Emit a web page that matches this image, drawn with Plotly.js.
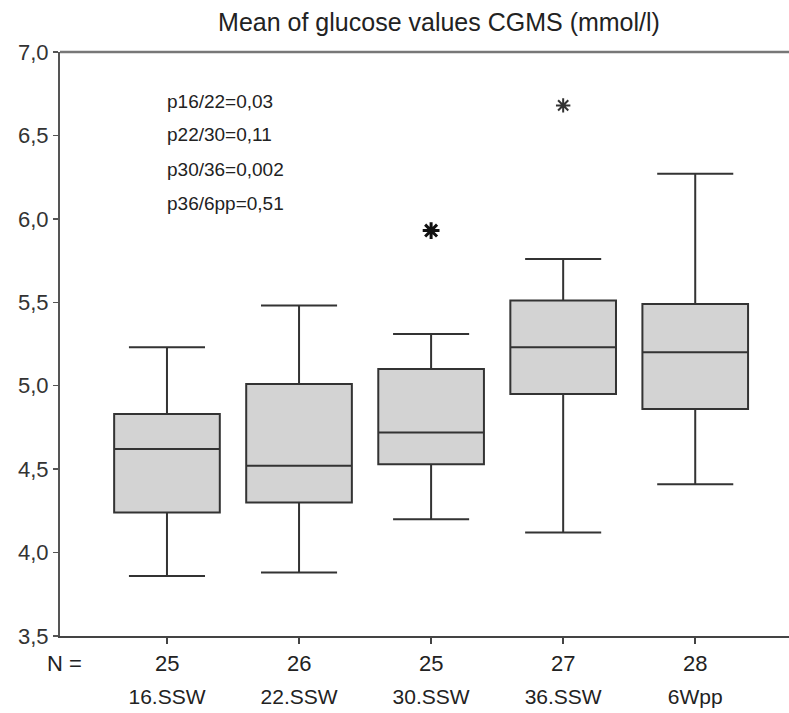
<!DOCTYPE html>
<html>
<head>
<meta charset="utf-8">
<script src="https://cdn.plot.ly/plotly-3.0.1.min.js"></script>
<style>html,body{margin:0;padding:0;background:#fff;}#chart{width:789px;height:713px;}</style>
</head>
<body>
<div id="chart"></div>
<script>
// ---- data ----
var categories = ["16.SSW", "22.SSW", "30.SSW", "36.SSW", "6Wpp"];
var nValues = [25, 26, 25, 27, 28];
var lowerWhisker = [3.86, 3.88, 4.20, 4.12, 4.41];
var q1Values = [4.24, 4.30, 4.53, 4.95, 4.86];
var medianValues = [4.62, 4.52, 4.72, 5.23, 5.20];
var q3Values = [4.83, 5.01, 5.10, 5.51, 5.49];
var upperWhisker = [5.23, 5.48, 5.31, 5.76, 6.27];
var outlierCats = ["30.SSW", "36.SSW"];
var outlierValues = [5.93, 6.68];
var pTexts = ["p16/22=0,03", "p22/30=0,11", "p30/36=0,002", "p36/6pp=0,51"];
var yTickVals = [3.5, 4.0, 4.5, 5.0, 5.5, 6.0, 6.5, 7.0];
var titleText = "Mean of glucose values CGMS (mmol/l)";

var FONT = "Liberation Sans, Arial, sans-serif";
var traces = [];
categories.forEach(function (c, i) {
  traces.push({
    type: "box",
    x: [c],
    q1: [q1Values[i]],
    median: [medianValues[i]],
    q3: [q3Values[i]],
    lowerfence: [lowerWhisker[i]],
    upperfence: [upperWhisker[i]],
    width: 0.8,
    whiskerwidth: 0.72,
    fillcolor: "#d3d3d3",
    line: {color: "#333333", width: 2},
    boxpoints: false,
    hoverinfo: "skip",
    showlegend: false
  });
});
// outliers
traces.push({
  type: "scatter", mode: "markers",
  x: [outlierCats[0]], y: [outlierValues[0]],
  marker: {symbol: "asterisk-open", size: 14, color: "#111", line: {color: "#111", width: 3}},
  showlegend: false, hoverinfo: "skip"
});
traces.push({
  type: "scatter", mode: "markers",
  x: [outlierCats[1]], y: [outlierValues[1]],
  marker: {symbol: "asterisk-open", size: 12, color: "#333", line: {color: "#333", width: 2}},
  showlegend: false, hoverinfo: "skip"
});

var annotations = [];
pTexts.forEach(function (t, i) {
  annotations.push({
    xref: "paper", yref: "paper", x: (165 - 60) / 729, y: 1 - (101 + 34 * i - 52) / 584,
    xanchor: "left", yanchor: "middle", showarrow: false, text: t,
    font: {family: FONT, size: 19, color: "#222"}
  });
});
annotations.push({
  xref: "paper", yref: "paper", x: (64 - 60) / 729, y: -(663 - 636) / 584,
  xanchor: "center", yanchor: "middle", showarrow: false, text: "N =",
  font: {family: FONT, size: 22, color: "#222"}
});
categories.forEach(function (c, i) {
  annotations.push({
    xref: "x", yref: "paper", x: c, y: -(663 - 636) / 584,
    xanchor: "center", yanchor: "middle", showarrow: false, text: String(nValues[i]),
    font: {family: FONT, size: 22, color: "#222"}
  });
});

var layout = {
  width: 789, height: 713,
  margin: {l: 60, r: 0, t: 52, b: 77},
  paper_bgcolor: "#fff", plot_bgcolor: "#fff",
  separators: ", ",
  title: {
    text: titleText, xref: "paper", x: (439 - 60) / 729, xanchor: "center",
    yref: "container", y: 1 - 22 / 713, yanchor: "middle",
    font: {family: FONT, size: 25, color: "#222"}
  },
  xaxis: {
    type: "category", categoryorder: "array", categoryarray: categories,
    range: [-0.81, 4.71],
    showgrid: false, zeroline: false,
    showline: true, linecolor: "#444", linewidth: 2,
    ticks: "outside", ticklen: 6, tickwidth: 1.5, tickcolor: "#444",
    tickvals: categories, ticktext: categories,
    ticklabelstandoff: 35,
    tickfont: {family: FONT, size: 21, color: "#222"}
  },
  yaxis: {
    range: [3.5, 7.0],
    showgrid: false, zeroline: false,
    showline: true, linecolor: "#555", linewidth: 2,
    ticks: "outside", ticklen: 5, tickwidth: 1.5, tickcolor: "#555",
    tickvals: yTickVals, tickformat: ".1f",
    tickfont: {family: FONT, size: 22, color: "#333"}
  },
  shapes: [{
    type: "line", xref: "paper", yref: "paper", x0: 0, x1: 1, y0: 1, y1: 1,
    line: {color: "#777", width: 2.5}
  }],
  annotations: annotations
};

Plotly.newPlot("chart", traces, layout, {staticPlot: true, displayModeBar: false});
</script>
</body>
</html>
